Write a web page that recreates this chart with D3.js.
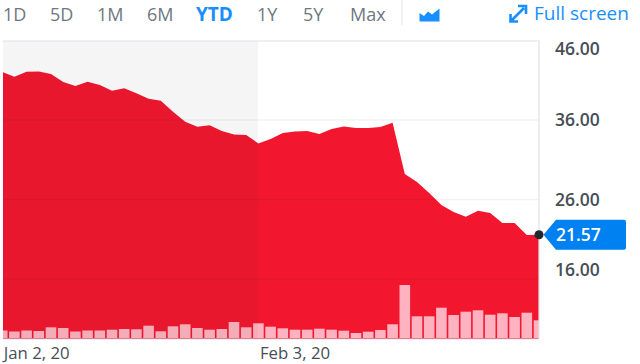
<!DOCTYPE html>
<html><head><meta charset="utf-8">
<script src="https://cdn.jsdelivr.net/npm/d3@7/dist/d3.min.js"></script>
<style>
html,body{margin:0;padding:0;background:#fff;}
svg{display:block;font-family:"Open Sans",sans-serif;}
.axis path,.axis line{display:none;}
</style></head><body>
<svg id="c" width="640" height="364"></svg>
<script>
const dates=["Jan 2","Jan 3","Jan 6","Jan 7","Jan 8","Jan 9","Jan 10","Jan 13","Jan 14","Jan 15","Jan 16","Jan 17","Jan 21","Jan 22","Jan 23","Jan 24","Jan 27","Jan 28","Jan 29","Jan 30","Jan 31","Feb 3","Feb 4","Feb 5","Feb 6","Feb 7","Feb 10","Feb 11","Feb 12","Feb 13","Feb 14","Feb 18","Feb 19","Feb 20","Feb 21","Feb 24","Feb 25","Feb 26","Feb 27","Feb 28","Mar 2","Mar 3","Mar 4","Mar 5","Mar 6"];
const prices=[42.04,41.45,42.08,42.1,41.79,40.78,40.28,40.82,40.4,39.69,39.99,39.36,38.68,38.43,37.04,35.79,35.16,35.33,34.62,34.18,34.11,33.04,33.61,34.36,34.55,34.62,34.24,34.87,35.18,34.99,34.99,35.12,35.66,29.21,28.2,26.82,25.31,24.43,23.84,24.59,24.3,23.04,23.04,21.53,21.57];
const volumes=[7.5,6.5,7.5,7,10.7,10,6.5,7.5,7.5,8.3,9,8.7,12.3,6.7,11.7,13.7,10,8.3,9,16,10.7,14.7,11.3,9.7,8.3,8.3,9.3,8.3,7.3,5,6.3,8,13.7,53,21.7,21.7,30.3,23,26.3,27.7,23.3,24.7,21,25.3,17.7];
const yTicks=[46,36,26,16];
const xTicks=["Jan 2","Feb 3"];
const xLabels=["Jan 2, 20","Feb 3, 20"];
const ranges=["1D","5D","1M","6M","YTD","1Y","5Y","Max"];
const rangeX=[3,50,97,147,196,257,303,350];
const last=21.57;

const L=3,R=539,T=41,B=339;
const svg=d3.select("#c");
const x=d3.scalePoint().domain(dates).range([2.2,539]);
const y=d3.scaleLinear().domain([46,16]).range([40.5,279]);
const v=d3.scaleLinear().domain([0,60]).range([338,278]);

svg.append("defs").append("clipPath").attr("id","plot").append("rect")
  .attr("x",L).attr("y",T).attr("width",R-L).attr("height",B-T);
const g=svg.append("g").attr("clip-path","url(#plot)");

g.append("path").attr("fill","#f2172f")
  .attr("d",d3.area().x((d,i)=>x(dates[i])).y0(B).y1(d=>y(d))(prices));

g.selectAll("rect.vol").data(volumes).join("rect").attr("class","vol")
  .attr("x",(d,i)=>x(dates[i])-5.3).attr("width",10.6)
  .attr("y",d=>v(d)).attr("height",d=>338-v(d))
  .attr("fill","#ffb3c0");

g.selectAll("line.grid").data(yTicks.slice(1)).join("line").attr("class","grid")
  .attr("x1",L).attr("x2",R).attr("y1",d=>y(d)).attr("y2",d=>y(d))
  .attr("stroke","#000").attr("stroke-opacity",0.05).attr("stroke-width",1.5);

g.append("rect").attr("x",L).attr("y",T).attr("width",x("Feb 3")-L-0.5).attr("height",B-T)
  .attr("fill","#f5f5f6").style("mix-blend-mode","multiply");

svg.append("path").attr("fill","none").attr("stroke","#dfe2e8").attr("stroke-width",1.2)
  .attr("d",`M${L},${T}H${R}V${B}H${L}`);

const yAxis=svg.append("g").attr("class","axis").attr("transform","translate(555,0)")
  .call(d3.axisRight(y).tickValues(yTicks).tickSize(0).tickPadding(0).tickFormat(d3.format(".2f")));
yAxis.selectAll("text").attr("fill","#464e56").attr("font-size",17.5).attr("font-weight",600)
  .attr("font-family","'Open Sans',sans-serif")
  .attr("y",d=>d===46?8:d===16?-9:0);

const xAxis=svg.append("g").attr("class","axis").attr("transform","translate(0,345)")
  .call(d3.axisBottom(x).tickValues(xTicks).tickSize(0).tickPadding(0).tickFormat((d,i)=>xLabels[i]));
xAxis.selectAll("text").attr("fill","#464e56").attr("font-size",16.8).attr("font-weight",500)
  .attr("font-family","'Open Sans',sans-serif")
  .attr("text-anchor","start").attr("dx",1).attr("y",2);

svg.selectAll("text.range").data(ranges).join("text").attr("class","range")
  .attr("x",(d,i)=>rangeX[i]).attr("y",21).attr("font-size",d=>d==="YTD"?19:18)
  .attr("font-weight",d=>d==="YTD"?700:400)
  .attr("fill",d=>d==="YTD"?"#188fff":"#6e7780").text(d=>d);

svg.append("line").attr("x1",402).attr("x2",402).attr("y1",0).attr("y2",25).attr("stroke","#e0e4e9");
svg.append("path").attr("fill","#188fff").attr("d","M419.5,21.5V13L424,16L428,11.5L432,14.5L439.5,8.5V21.5Z");
svg.append("path").attr("fill","none").attr("stroke","#188fff").attr("stroke-width",2.6)
  .attr("d","M512,20L524,8M518,6H526V14M510.5,14V21.5H518");
svg.append("text").attr("x",534).attr("y",20).attr("font-size",19).attr("font-weight",500)
  .attr("fill","#188fff").text("Full screen");

const ly=y(last);
svg.append("path").attr("fill","#0081f2")
  .attr("d",`M543.5,${ly}L556,${ly-15}H624a2,2 0 0 1 2,2V${ly+13}a2,2 0 0 1 -2,2H556Z`);
svg.append("text").attr("x",556).attr("y",ly).attr("dy","0.35em").attr("font-size",17.5)
  .attr("font-weight",600).attr("fill","#fff").text(last.toFixed(2));
svg.append("circle").attr("cx",539).attr("cy",ly).attr("r",4.5).attr("fill","#23272b");
</script></body></html>
